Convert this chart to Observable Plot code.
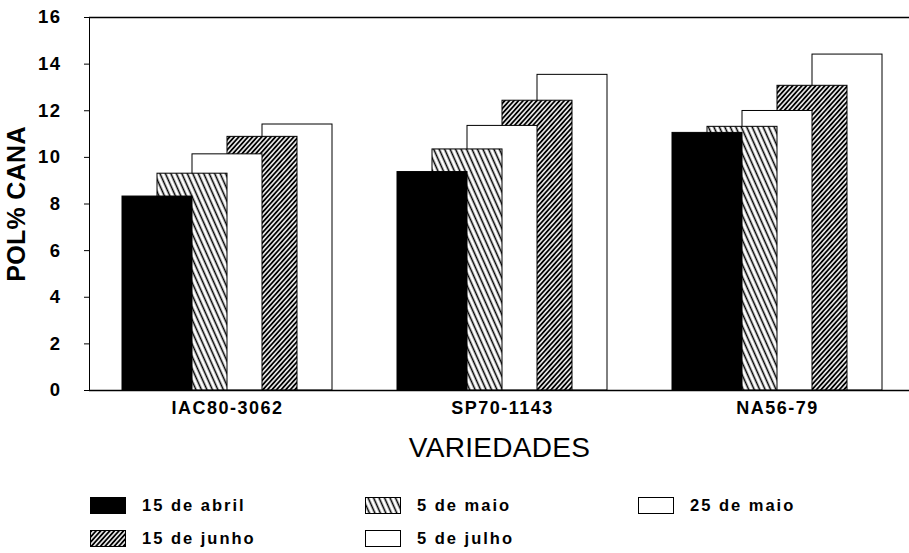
<!DOCTYPE html>
<html><head><meta charset="utf-8">
<script src="https://cdn.jsdelivr.net/npm/d3@7"></script>
<script src="https://cdn.jsdelivr.net/npm/@observablehq/plot@0.6"></script>
<style>
body{margin:0;background:#fff;}
#wrap{position:relative;width:909px;height:553px;overflow:hidden;font-family:"Liberation Sans",Arial,sans-serif;}
#chart svg{overflow:visible;}
#chart text{letter-spacing:1.5px;}
#chart g[aria-label="y-axis label"] text{font-size:25px;letter-spacing:0.3px;}
#chart g[aria-label="x-axis label"] text{font-size:28px;font-weight:normal;letter-spacing:0.3px;}
#legend{position:absolute;left:90px;top:497px;display:grid;grid-template-columns:275px 273px 200px;row-gap:16px;}
.item{display:flex;align-items:center;height:17px;}
.item svg{width:36px;height:17px;margin-right:16px;display:block;}
.item span{font-size:16.5px;font-weight:bold;letter-spacing:2px;}
</style></head><body>
<svg width="0" height="0" style="position:absolute">
<defs>
<pattern id="pMaio" width="5" height="5" patternUnits="userSpaceOnUse" patternTransform="rotate(-24)">
<rect width="5" height="5" fill="white"/>
<line x1="2.5" y1="-1" x2="2.5" y2="6" stroke="black" stroke-width="1.6"/>
</pattern>
<pattern id="pJunho" width="3.4" height="3.4" patternUnits="userSpaceOnUse" patternTransform="rotate(42)">
<rect width="3.4" height="3.4" fill="white"/>
<line x1="1.7" y1="-1" x2="1.7" y2="5" stroke="black" stroke-width="1.9"/>
</pattern>
</defs></svg>
<div id="wrap"><div id="chart"></div><div id="legend"></div></div>
<script>
const varieties = ["IAC80-3062", "SP70-1143", "NA56-79"];
const dates = ["15 de abril", "5 de maio", "25 de maio", "15 de junho", "5 de julho"];
const abril15 = [8.32, 9.37, 11.05];
const maio5 = [9.30, 10.34, 11.31];
const maio25 = [10.13, 11.35, 11.99];
const junho15 = [10.88, 12.43, 13.07];
const julho5 = [11.41, 13.54, 14.41];
const yTicks = [0, 2, 4, 6, 8, 10, 12, 14, 16];
const fills = ["black", "url(#pMaio)", "white", "url(#pJunho)", "white"];
const legendOrder = [0, 1, 2, 3, 4];

const series = [abril15, maio5, maio25, junho15, julho5];
const barMarks = [];
for (let j = series.length - 1; j >= 0; j--) {
  const rows = varieties.map((v, i) => ({variety: v, date: dates[j], value: series[j][i]}));
  barMarks.push(Plot.barY(rows, {x: "variety", y: "value", fill: fills[j], stroke: "black", strokeWidth: 1, dx: (j - 2) * 35}));
}

const chart = Plot.plot({
  width: 909,
  height: 470,
  marginTop: 17,
  marginBottom: 80,
  marginLeft: 89,
  marginRight: 0,
  style: {fontFamily: "'Liberation Sans', Arial, sans-serif", fontSize: "16px", fontWeight: "bold", color: "black", background: "white"},
  x: {domain: varieties, range: [89.5, 914.5], paddingInner: 0.7455, paddingOuter: 0.3727, align: 0.5},
  y: {domain: [0, 16]},
  marks: [
    ...barMarks,
    Plot.ruleY([0], {stroke: "black", strokeWidth: 1.5}),
    Plot.ruleY([16], {stroke: "black", strokeWidth: 1.5}),
    Plot.frame({anchor: "left", stroke: "black"}),
    Plot.axisY({ticks: yTicks, tickSize: 5, tickFormat: () => "", label: "POL% CANA", labelAnchor: "center", labelArrow: "none", labelOffset: 82}),
    Plot.axisX({tickSize: 0, tickFormat: () => "", label: "VARIEDADES", labelAnchor: "center", labelArrow: "none", labelOffset: 66}),
    Plot.text(yTicks, {y: d => d, frameAnchor: "left", dx: -28, textAnchor: "end", fontSize: 18.5, fontWeight: "bold", fill: "black"}),
    Plot.text(varieties, {x: d => d, frameAnchor: "bottom", dy: 23, fontSize: 18, fontWeight: "bold", fill: "black"})
  ]
});
document.getElementById("chart").appendChild(chart);

const legend = document.getElementById("legend");
legendOrder.forEach(j => {
  const item = document.createElement("div");
  item.className = "item";
  item.innerHTML = `<svg viewBox="0 0 36 17"><rect x="0.5" y="0.5" width="35" height="16" fill="${fills[j]}" stroke="black" stroke-width="1"/></svg><span>${dates[j]}</span>`;
  legend.appendChild(item);
});
</script>
</body></html>
